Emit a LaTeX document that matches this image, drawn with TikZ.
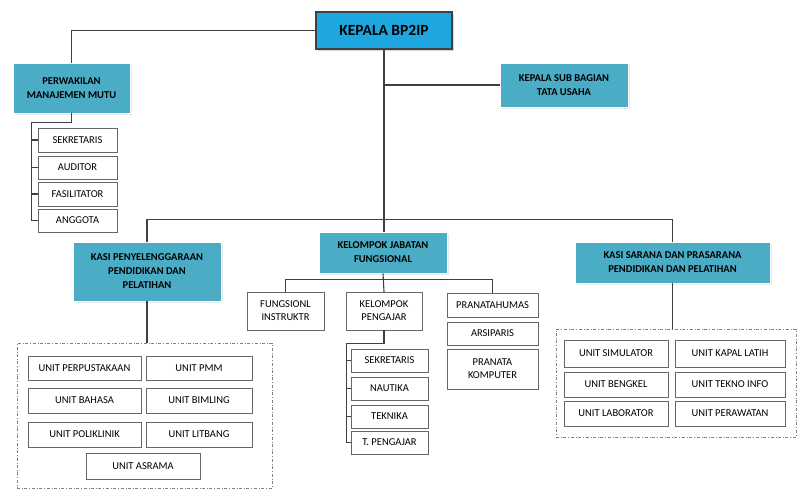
\documentclass[tikz,border=0pt]{standalone}
\usepackage{fontspec}
\setmainfont{Carlito}
\usetikzlibrary{positioning}
\usetikzlibrary{shadows}

\definecolor{headblue}{HTML}{1DA6DF}
\definecolor{boxblue}{HTML}{4BACC6}
\definecolor{linegray}{HTML}{404040}

\tikzset{
  headbox/.style={draw=linegray, line width=1.6pt, fill=headblue, align=center,
    font=\fontsize{15.5}{17}\selectfont\bfseries,
    drop shadow={shadow xshift=2pt, shadow yshift=-2pt, fill=gray!60}},
  bluebox/.style={draw=white, line width=0.8pt, fill=boxblue, align=center,
    font=\fontsize{10.5}{14}\selectfont\bfseries,
    drop shadow={shadow xshift=2pt, shadow yshift=-2pt, fill=gray!35}},
  unitbox/.style={draw=linegray!80, thin, fill=white, align=center,
    font=\fontsize{10.5}{13}\selectfont, inner sep=1pt},
  dashbox/.style={draw=gray, thin, dash dot, inner sep=0pt},
  link/.style={draw=linegray, line width=1.1pt}
}

\begin{document}
\begin{tikzpicture}[x=1pt,y=-1pt]
\useasboundingbox (0,0) rectangle (809,501);

%top
\node[headbox, minimum width=136pt, minimum height=37pt] (kepala) at (384,30.5) {KEPALA BP2IP};
\node[bluebox, minimum width=117pt, minimum height=50pt] (pmm) at (71.5,88) {PERWAKILAN\\MANAJEMEN MUTU};
\node[bluebox, minimum width=128pt, minimum height=44pt] (ksb) at (564,85) {KEPALA SUB BAGIAN\\TATA USAHA};

%quality staff
\node[unitbox, minimum width=79pt, minimum height=24pt] (sekr) at (77.5,140) {SEKRETARIS};
\node[unitbox, minimum width=79pt, minimum height=23pt] (auditor) at (77.5,167.5) {AUDITOR};
\node[unitbox, minimum width=79pt, minimum height=24pt] (fasil) at (77.5,194) {FASILITATOR};
\node[unitbox, minimum width=79pt, minimum height=23pt] (anggota) at (77.5,220.5) {ANGGOTA};

%second level
\node[bluebox, minimum width=148pt, minimum height=59pt] (kpp) at (147,271.5) {KASI PENYELENGGARAAN\\PENDIDIKAN DAN\\PELATIHAN};
\node[bluebox, minimum width=128pt, minimum height=41pt] (kjf) at (383,252.5) {KELOMPOK JABATAN\\FUNGSIONAL};
\node[bluebox, minimum width=195pt, minimum height=41pt] (ksp) at (672.5,262.5) {KASI SARANA DAN PRASARANA\\PENDIDIKAN DAN PELATIHAN};

%left units
\node[dashbox, minimum width=255pt, minimum height=145pt] (lunits) at (144.5,415.5) {};
\node[unitbox, minimum width=113pt, minimum height=24pt] (perpus) at (84.5,368) {UNIT  PERPUSTAKAAN};
\node[unitbox, minimum width=106pt, minimum height=24pt] (upmm) at (199,368) {UNIT PMM};
\node[unitbox, minimum width=113pt, minimum height=25pt] (bahasa) at (84.5,400.5) {UNIT BAHASA};
\node[unitbox, minimum width=106pt, minimum height=25pt] (bimling) at (199,400.5) {UNIT BIMLING};
\node[unitbox, minimum width=113pt, minimum height=25pt] (poli) at (84.5,434.5) {UNIT  POLIKLINIK};
\node[unitbox, minimum width=106pt, minimum height=25pt] (litbang) at (199,434.5) {UNIT LITBANG};
\node[unitbox, minimum width=114pt, minimum height=26pt] (asrama) at (143,466) {UNIT ASRAMA};

%functional groups
\node[unitbox, minimum width=77pt, minimum height=38pt] (fungsionl) at (285.5,311) {FUNGSIONL\\INSTRUKTR};
\node[unitbox, minimum width=76pt, minimum height=38pt] (kelompok) at (384,311) {KELOMPOK\\PENGAJAR};
\node[unitbox, minimum width=91pt, minimum height=24pt] (humas) at (492.5,305) {PRANATAHUMAS};
\node[unitbox, minimum width=91pt, minimum height=23pt] (arsip) at (492.5,333.5) {ARSIPARIS};
\node[unitbox, minimum width=91pt, minimum height=40pt] (komputer) at (492.5,369) {PRANATA\\KOMPUTER};

%teachers
\node[unitbox, minimum width=77pt, minimum height=23pt] (sekr2) at (389.5,360.5) {SEKRETARIS};
\node[unitbox, minimum width=77pt, minimum height=23pt] (nautika) at (389.5,388.5) {NAUTIKA};
\node[unitbox, minimum width=77pt, minimum height=23pt] (teknika) at (389.5,416.5) {TEKNIKA};
\node[unitbox, minimum width=77pt, minimum height=23pt] (tpeng) at (389.5,442.5) {T. PENGAJAR};

%right units
\node[dashbox, minimum width=240pt, minimum height=108pt] (runits) at (676,383) {};
\node[unitbox, minimum width=104pt, minimum height=27pt] (simul) at (616,353.5) {UNIT  SIMULATOR};
\node[unitbox, minimum width=110pt, minimum height=27pt] (kapal) at (730,353.5) {UNIT  KAPAL LATIH};
\node[unitbox, minimum width=104pt, minimum height=25pt] (bengkel) at (616,384.5) {UNIT  BENGKEL};
\node[unitbox, minimum width=110pt, minimum height=25pt] (tekno) at (730,384.5) {UNIT TEKNO INFO};
\node[unitbox, minimum width=104pt, minimum height=25pt] (lab) at (616,413.5) {UNIT  LABORATOR};
\node[unitbox, minimum width=110pt, minimum height=25pt] (rawat) at (730,413.5) {UNIT PERAWATAN};

%connectors
\draw[link] (kepala.west) -| (pmm.north);
\draw[link] (kepala.south) -- (kepala.south |- kjf.north);
\draw[link] (kepala.south |- ksb.west) -- (ksb.west);
\draw[link] (kpp.north) -- ++(0,-22) -| (ksp.north);
\draw[link] (pmm.south) -- ++(0,9) -| ([xshift=-6pt]anggota.west) -- (anggota.west);
\foreach \n in {sekr,auditor,fasil}
  \draw[link] (\n.west) -- ++(-6,0);
\draw[link] (kpp.south) -- (kpp.south |- lunits.north);
\draw[link] (ksp.south) -- (ksp.south |- runits.north);
\draw[link] (fungsionl.north) -- ++(0,-12) -| (humas.north);
\draw[link] (kjf.south) -- (kelompok.north);
\draw[link] (kelompok.south) -- ++(0,13) -| ([xshift=-4pt]tpeng.west) -- (tpeng.west);
\foreach \n in {sekr2,nautika,teknika}
  \draw[link] (\n.west) -- ++(-4,0);

\end{tikzpicture}
\end{document}
